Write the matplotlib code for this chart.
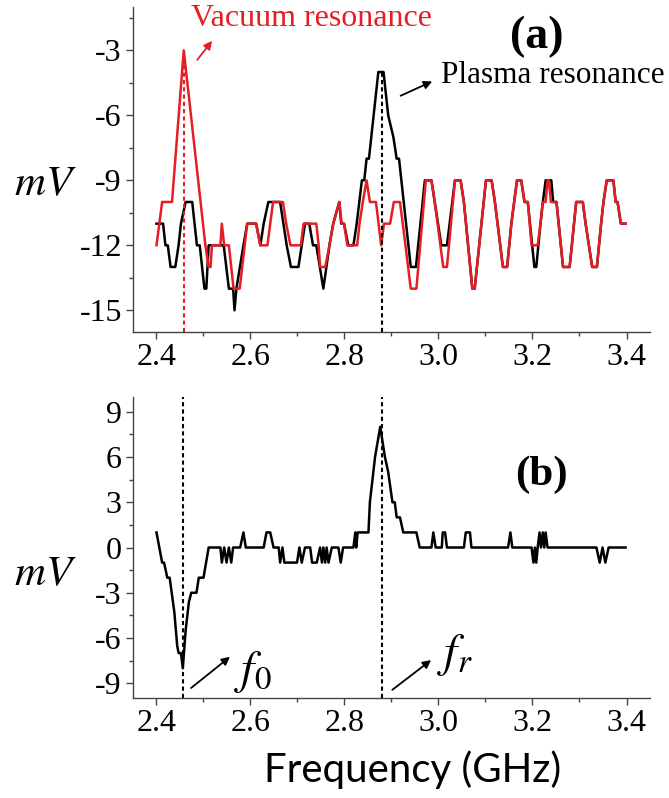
import numpy as np
import matplotlib
matplotlib.use('Agg')
import matplotlib.pyplot as plt
from matplotlib.ticker import MultipleLocator

plt.rcParams['font.family'] = ['Liberation Serif', 'DejaVu Serif']
plt.rcParams['mathtext.fontset'] = 'stix'
plt.rcParams['axes.unicode_minus'] = False

# (a) vacuum trace (red), GHz / mV
vac_f = [2.400, 2.412, 2.433, 2.458, 2.504, 2.511, 2.515, 2.518, 2.536, 2.539,
         2.544, 2.554, 2.564, 2.577, 2.593, 2.612, 2.621, 2.636, 2.648, 2.669,
         2.676, 2.685, 2.707, 2.713, 2.740, 2.745, 2.748, 2.759, 2.768, 2.776,
         2.789, 2.794, 2.799, 2.806, 2.827, 2.832, 2.839, 2.847, 2.854, 2.867,
         2.878, 2.884, 2.897, 2.905, 2.918, 2.924, 2.941, 2.953, 2.973, 2.985,
         2.992, 3.010, 3.018, 3.035, 3.047, 3.054, 3.072, 3.077, 3.101, 3.113,
         3.120, 3.137, 3.146, 3.155, 3.167, 3.176, 3.183, 3.190, 3.198, 3.211,
         3.217, 3.222, 3.228, 3.232, 3.235, 3.239, 3.251, 3.265, 3.279, 3.293,
         3.307, 3.313, 3.327, 3.337, 3.346, 3.351, 3.358, 3.372, 3.377, 3.381,
         3.388, 3.398]
vac_mv = [-12, -10, -10, -3, -12, -13, -13, -12, -12, -11,
          -12, -12, -14, -14, -11, -11, -12, -12, -10, -10,
          -11, -12, -12, -11, -11, -12, -13, -13, -12, -11,
          -10, -11, -11, -12, -12, -11, -10, -9, -10, -10,
          -12, -11, -11, -10, -10, -11, -14, -14, -9, -9,
          -10, -13, -13, -9, -9, -10, -14, -14, -9, -9,
          -10, -13, -13, -11, -9, -9, -10, -10, -12, -12,
          -11, -10, -10, -9, -9, -10, -10, -13, -13, -10,
          -10, -11, -13, -13, -11, -10, -9, -9, -10, -10,
          -11, -11]

# (a) plasma trace (black)
pl_f = [2.400, 2.414, 2.419, 2.424, 2.430, 2.440, 2.447, 2.452, 2.462, 2.476,
        2.481, 2.486, 2.492, 2.502, 2.506, 2.511, 2.543, 2.554, 2.563, 2.566,
        2.570, 2.585, 2.593, 2.612, 2.621, 2.628, 2.638, 2.663, 2.670, 2.677,
        2.686, 2.702, 2.709, 2.716, 2.725, 2.733, 2.740, 2.755, 2.768, 2.776,
        2.789, 2.793, 2.799, 2.808, 2.819, 2.826, 2.837, 2.842, 2.847, 2.852,
        2.872, 2.883, 2.893, 2.904, 2.911, 2.916, 2.941, 2.952, 2.971, 2.985,
        2.992, 3.006, 3.018, 3.035, 3.047, 3.054, 3.072, 3.077, 3.101, 3.113,
        3.120, 3.137, 3.146, 3.155, 3.167, 3.176, 3.183, 3.190, 3.204, 3.208,
        3.217, 3.222, 3.228, 3.240, 3.244, 3.251, 3.265, 3.279, 3.293, 3.307,
        3.313, 3.327, 3.337, 3.346, 3.351, 3.358, 3.372, 3.377, 3.381, 3.388,
        3.398]
pl_mv = [-11, -11, -12, -12, -13, -13, -12, -11, -10, -10,
         -11, -12, -12, -14, -14, -12, -12, -14, -14, -15,
         -14, -12, -11, -11, -12, -11, -10, -10, -11, -12,
         -13, -13, -12, -11, -11, -12, -12, -14, -12, -11,
         -10, -11, -11, -12, -12, -11, -9, -9, -8, -8,
         -4, -4, -6, -7, -8, -8, -13, -13, -9, -9,
         -10, -12, -12, -9, -9, -10, -14, -14, -9, -9,
         -10, -13, -13, -11, -9, -9, -10, -10, -13, -13,
         -11, -10, -9, -9, -10, -10, -13, -13, -10, -10,
         -11, -13, -13, -11, -10, -9, -9, -10, -10, -11,
         -11]

# (b) difference trace
diff_f = [2.400, 2.412, 2.416, 2.423, 2.428, 2.438, 2.444, 2.447, 2.452, 2.456,
          2.462, 2.469, 2.474, 2.485, 2.490, 2.500, 2.511, 2.536, 2.539, 2.544,
          2.549, 2.554, 2.559, 2.563, 2.578, 2.585, 2.590, 2.628, 2.634, 2.642,
          2.649, 2.660, 2.663, 2.668, 2.672, 2.699, 2.704, 2.709, 2.716, 2.727,
          2.731, 2.741, 2.748, 2.752, 2.755, 2.759, 2.762, 2.766, 2.773, 2.787,
          2.792, 2.797, 2.819, 2.823, 2.825, 2.828, 2.851, 2.854, 2.865, 2.876,
          2.886, 2.893, 2.902, 2.907, 2.911, 2.918, 2.925, 2.953, 2.960, 2.985,
          2.989, 2.994, 3.007, 3.009, 3.014, 3.018, 3.054, 3.058, 3.067, 3.070,
          3.148, 3.153, 3.157, 3.198, 3.202, 3.205, 3.208, 3.211, 3.215, 3.218,
          3.222, 3.225, 3.228, 3.232, 3.336, 3.343, 3.349, 3.355, 3.362, 3.398]
diff_mv = [1, -1, -1, -2, -2, -4.3, -6.5, -7, -7, -8,
           -5.5, -3.6, -3, -3, -2, -2, 0, 0, -1, 0,
           -1, 0, -1, 0, 0, 1, 0, 0, 1, 1,
           0, 0, -1, 0, -1, -1, 0, -1, 0, 0,
           -1, -1, 0, -1, 0, -1, 0, -1, 0, 0,
           -1, 0, 0, 1, 0, 1, 1, 3, 6, 8,
           6, 5, 3, 3, 2, 2, 1, 1, 0, 0,
           1, 0, 0, 1, 1, 0, 0, 1, 1, 0,
           0, 1, 0, 0, -1, 0, -1, 0, 1, 0,
           1, 0, 1, 0, 0, -1, 0, -1, 0, 0]

f_vac = 2.458
f_pl = 2.880
f0_b = 2.456
fr_b = 2.879

red = '#e41e24'
fig = plt.figure(figsize=(6.69, 7.98), dpi=100)
ax1 = fig.add_axes([0.1988, 0.584, 0.7728, 0.4072])
ax2 = fig.add_axes([0.1988, 0.1249, 0.7728, 0.378])

for ax in (ax1, ax2):
    ax.spines['top'].set_visible(False)
    ax.spines['right'].set_visible(False)
    for s in ('left', 'bottom'):
        ax.spines[s].set_color('#444444')
        ax.spines[s].set_linewidth(1.0)
    ax.set_xlim(2.35, 3.45)
    ax.xaxis.set_major_locator(MultipleLocator(0.2))
    ax.xaxis.set_minor_locator(MultipleLocator(0.1))
    ax.yaxis.set_major_locator(MultipleLocator(3))
    ax.yaxis.set_minor_locator(MultipleLocator(1.5))
    ax.tick_params(which='major', direction='out', length=5, width=1,
                   color='#444444', labelsize=23, pad=3)
    ax.tick_params(which='minor', direction='out', length=3, width=1,
                   color='#444444')
    ax.xaxis.set_major_formatter(matplotlib.ticker.FormatStrFormatter('%.1f'))

# panel (a)
ax1.set_ylim(-16, -1)
ax1.plot(pl_f, pl_mv, color='black', lw=1.8)
ax1.plot(vac_f, vac_mv, color=red, lw=1.8)
ax1.plot([f_vac, f_vac], [-16, max(vac_mv)], color=red, lw=1.5,
         ls=(0, (2, 1.5)))
ax1.plot([f_pl, f_pl], [-16, max(pl_mv)], color='black', lw=1.5,
         ls=(0, (2, 1.5)))
ax1.text(2.474, -1.55, 'Vacuum resonance', color=red, fontsize=23,
         ha='left', va='center')
ax1.annotate('', xy=(2.522, -2.46), xytext=(2.483, -3.54),
             arrowprops=dict(arrowstyle='-|>', color=red, lw=1.3,
                             mutation_scale=12))
ax1.text(3.006, -4.15, 'Plasma resonance', color='black', fontsize=22.5,
         ha='left', va='center')
ax1.annotate('', xy=(2.992, -4.38), xytext=(2.914, -5.15),
             arrowprops=dict(arrowstyle='-|>', color='black', lw=1.3,
                             mutation_scale=12))
ax1.text(3.209, -2.4, '(a)', fontsize=33, fontweight='bold',
         ha='center', va='center')
ax1.text(-0.17, 0.452, r'$mV$', transform=ax1.transAxes, fontsize=31,
         ha='center', va='center')

# panel (b)
ax2.set_ylim(-10, 10)
ax2.plot(diff_f, diff_mv, color='black', lw=1.8)
ax2.axvline(f0_b, color='black', lw=1.5, ls=(0, (2, 1.5)))
ax2.axvline(fr_b, color='black', lw=1.5, ls=(0, (2, 1.5)))
ax2.text(3.2195, 4.79, '(b)', fontsize=31, fontweight='bold',
         ha='center', va='center')
ax2.text(2.606, -8.25, r'$f_0$', fontsize=34, ha='center', va='center')
ax2.annotate('', xy=(2.561, -7.13), xytext=(2.469, -9.43),
             arrowprops=dict(arrowstyle='-|>', color='black', lw=1.3,
                             mutation_scale=12))
ax2.text(3.035, -7.13, r'$f_r$', fontsize=34, ha='center', va='center')
ax2.annotate('', xy=(2.989, -7.35), xytext=(2.897, -9.55),
             arrowprops=dict(arrowstyle='-|>', color='black', lw=1.3,
                             mutation_scale=12))
ax2.text(-0.17, 0.409, r'$mV$', transform=ax2.transAxes, fontsize=31,
         ha='center', va='center')

fig.text(413 / 669, 1 - 770 / 798, 'Frequency (GHz)', family='Lato',
         fontsize=29, ha='center', va='center')

fig.savefig('out.png', dpi=100)
